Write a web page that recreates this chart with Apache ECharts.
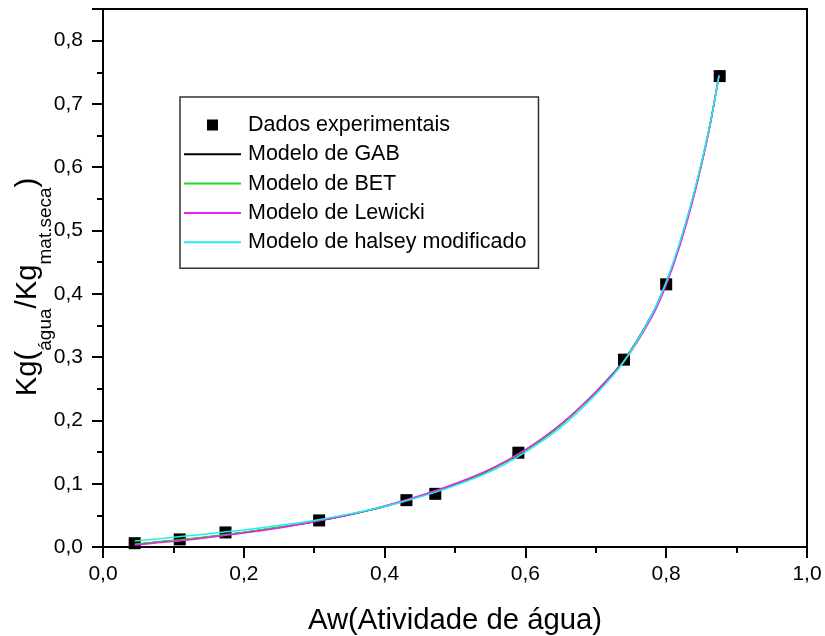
<!DOCTYPE html>
<html><head><meta charset="utf-8">
<script src="https://cdn.jsdelivr.net/npm/echarts@6/dist/echarts.min.js"></script>
<style>html,body{margin:0;padding:0;background:#fff}#c{width:825px;height:636px}</style>
</head><body><div id="c"></div>
<script>
// Experimental data
const expAw = [0.045, 0.109, 0.174, 0.307, 0.431, 0.472, 0.59, 0.74, 0.80, 0.876];
const expKg = [0.006, 0.012, 0.023, 0.042, 0.074, 0.084, 0.149, 0.296, 0.415, 0.744];
// Model curves
const modelAw = [0.045, 0.08, 0.11, 0.15, 0.2, 0.25, 0.3, 0.35, 0.4, 0.45, 0.5, 0.55, 0.6, 0.65, 0.7, 0.74, 0.78, 0.8, 0.82, 0.84, 0.86, 0.875];
const gabKg = [0.004, 0.008, 0.011, 0.016, 0.023, 0.031, 0.040, 0.051, 0.064, 0.080, 0.099, 0.122, 0.153, 0.193, 0.245, 0.295, 0.368, 0.418, 0.482, 0.56, 0.655, 0.745];
const betKg = [0.0045, 0.0085, 0.0115, 0.0165, 0.0235, 0.0315, 0.0405, 0.0515, 0.0645, 0.0805, 0.0995, 0.1225, 0.153, 0.193, 0.244, 0.294, 0.367, 0.417, 0.481, 0.559, 0.654, 0.745];
const lewickiKg = [0.003, 0.007, 0.010, 0.015, 0.022, 0.030, 0.040, 0.051, 0.065, 0.081, 0.100, 0.123, 0.154, 0.194, 0.245, 0.293, 0.364, 0.414, 0.478, 0.557, 0.653, 0.746];
const halseyKg = [0.0095, 0.013, 0.0165, 0.021, 0.027, 0.034, 0.042, 0.052, 0.064, 0.079, 0.097, 0.119, 0.150, 0.189, 0.241, 0.293, 0.368, 0.419, 0.484, 0.562, 0.656, 0.744];
const seriesNames = ['Dados experimentais', 'Modelo de GAB', 'Modelo de BET', 'Modelo de Lewicki', 'Modelo de halsey modificado'];
const xTitle = 'Aw(Atividade de água)';

const font = 'Liberation Sans, Arial, sans-serif';
const pair = (xs, ys) => xs.map((x, i) => [x, ys[i]]);
const fmt = v => v.toFixed(1).replace('.', ',');

const chart = echarts.init(document.getElementById('c'), null, {renderer: 'canvas'});
const lineSeries = (name, data, color) => ({
  name, type: 'line', data: pair(modelAw, data), symbol: 'none', smooth: 0.3,
  lineStyle: {color, width: 1.5}, itemStyle: {color}, z: 3
});
chart.setOption({
  animation: false,
  backgroundColor: '#fff',
  grid: {left: 103, right: 18, top: 9, bottom: 89, show: true, borderColor: '#000', borderWidth: 2,
    containLabel: false, outerBoundsMode: 'none'},
  legend: {
    orient: 'vertical', left: 180, top: 97,
    symbolKeepAspect: true,
    data: seriesNames.map((n, i) => i === 0
      ? {name: n, icon: 'path://M0,0h10v10h-10z', itemStyle: {color: '#000', opacity: 1}}
      : {name: n, itemStyle: {opacity: 0, color: 'transparent', borderWidth: 0}}),
    itemWidth: 57, itemHeight: 11, itemGap: 7.3,
    borderColor: '#333', borderWidth: 1.5, padding: [17, 12, 15, 3],
    textStyle: {fontFamily: font, fontSize: 21.5, color: '#000', lineHeight: 22, padding: [0, 0, 0, 2]}
  },
  xAxis: {
    type: 'value', min: 0, max: 1, interval: 0.2,
    name: xTitle, nameLocation: 'middle', nameGap: 59, nameMoveOverlap: false,
    nameTextStyle: {fontFamily: font, fontSize: 29.3, color: '#000'},
    axisLine: {show: true, onZero: false, lineStyle: {color: '#000', width: 2}},
    axisTick: {show: true, length: 11, lineStyle: {color: '#000', width: 2}},
    minorTick: {show: true, splitNumber: 2, length: 6, lineStyle: {color: '#000', width: 2}},
    splitLine: {show: false},
    axisLabel: {fontFamily: font, fontSize: 21, color: '#000', margin: 17, formatter: fmt}
  },
  yAxis: {
    type: 'value', min: 0, max: 0.85, interval: 0.1,
    name: '{m|Kg(}{s|água}{m|/Kg}{s|mat.seca}{m|)}', nameLocation: 'middle', nameGap: 48, nameRotate: 90,
    nameMoveOverlap: false,
    nameTextStyle: {
      fontFamily: font, color: '#000', padding: [0, 18, 0, 0],
      rich: {
        m: {fontFamily: font, fontSize: 29.3, color: '#000'},
        s: {fontFamily: font, fontSize: 19, color: '#000', padding: [36, 0, 0, 0]}
      }
    },
    axisLine: {show: true, onZero: false, lineStyle: {color: '#000', width: 2}},
    axisTick: {show: true, length: 11, lineStyle: {color: '#000', width: 2}},
    minorTick: {show: true, splitNumber: 2, length: 6, lineStyle: {color: '#000', width: 2}},
    splitLine: {show: false},
    axisLabel: {fontFamily: font, fontSize: 21, color: '#000', margin: 20, showMaxLabel: false,
      formatter: v => (Math.abs(v * 10 - Math.round(v * 10)) < 1e-6 ? fmt(v) : '')}
  },
  series: [
    {name: seriesNames[0], type: 'scatter', data: pair(expAw, expKg), symbol: 'rect', symbolSize: 12,
      itemStyle: {color: '#000', opacity: 1}, z: 2},
    lineSeries(seriesNames[1], gabKg, '#000000'),
    lineSeries(seriesNames[2], betKg, '#22dd22'),
    lineSeries(seriesNames[3], lewickiKg, '#ee22ee'),
    lineSeries(seriesNames[4], halseyKg, '#22eeee')
  ]
});
</script></body></html>
